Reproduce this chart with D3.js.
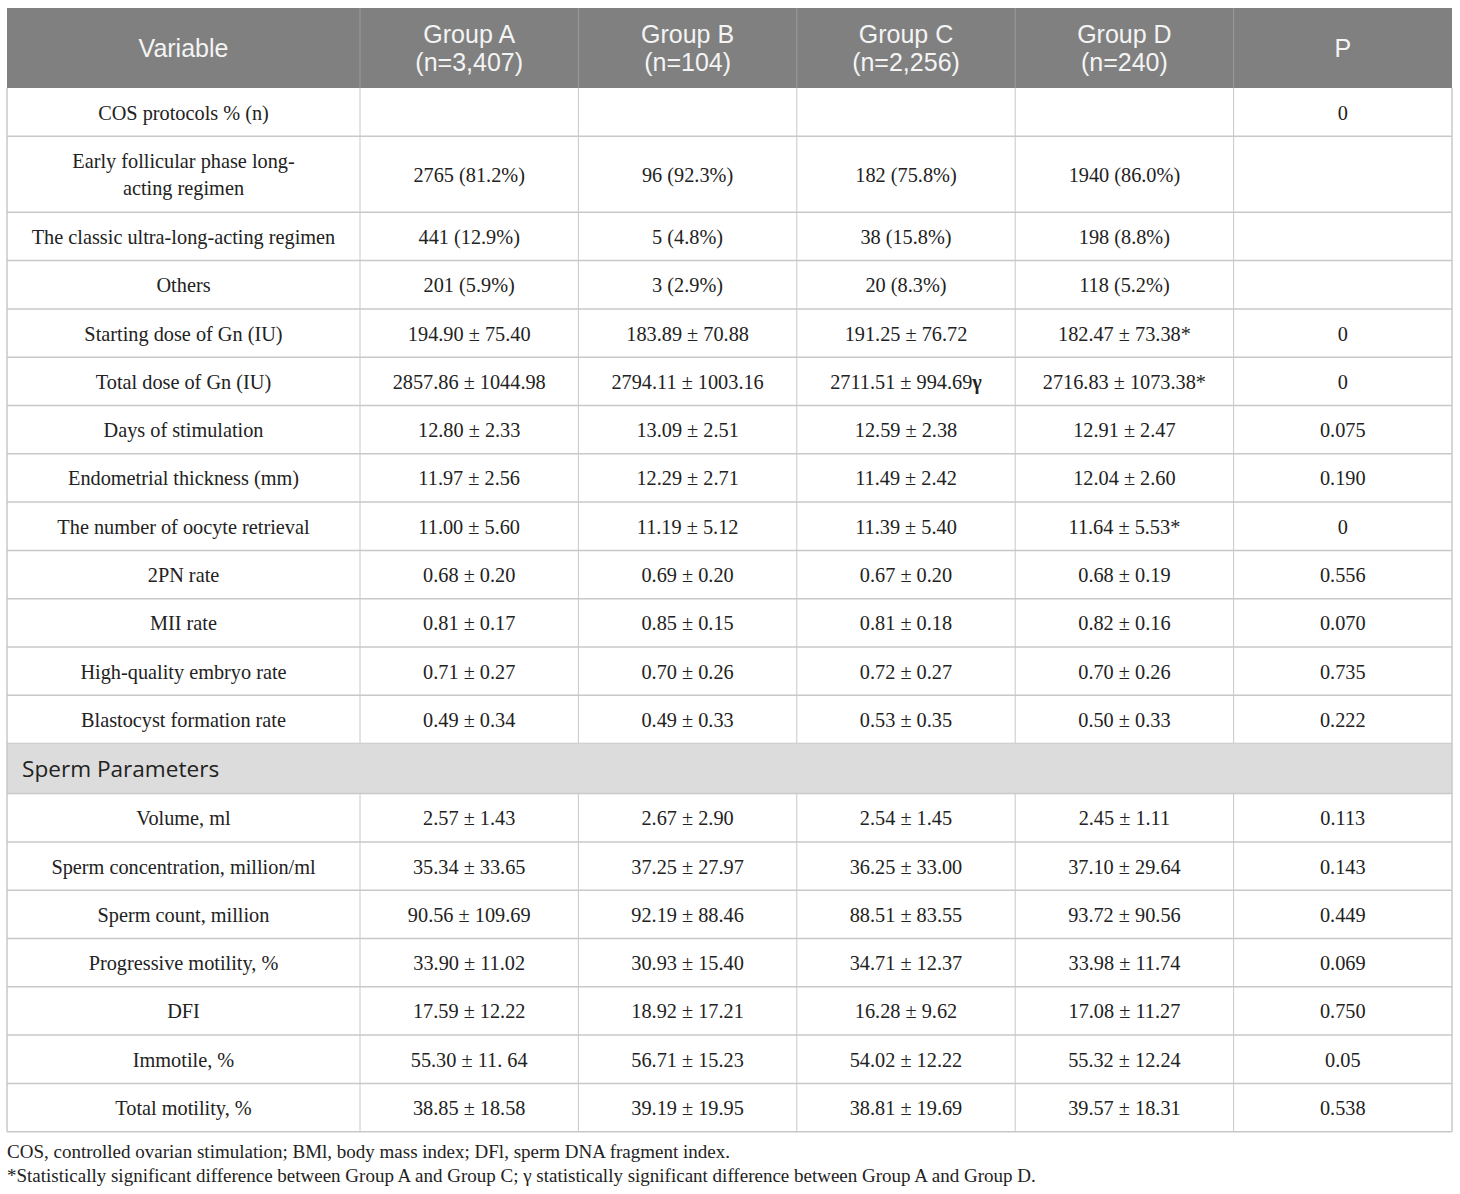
<!DOCTYPE html>
<html><head><meta charset="utf-8">
<script src="https://cdn.jsdelivr.net/npm/d3@7"></script>
<style>body{margin:0;background:#fff}</style>
</head><body>
<script>
// ---- data ----
const headers = ["Variable", "Group A\n(n=3,407)", "Group B\n(n=104)", "Group C\n(n=2,256)", "Group D\n(n=240)", "P"];
const variables = [
  "COS protocols % (n)",
  "Early follicular phase long-\nacting regimen",
  "The classic ultra-long-acting regimen",
  "Others",
  "Starting dose of Gn (IU)",
  "Total dose of Gn (IU)",
  "Days of stimulation",
  "Endometrial thickness (mm)",
  "The number of oocyte retrieval",
  "2PN rate",
  "MII rate",
  "High-quality embryo rate",
  "Blastocyst formation rate"
];
const groupA = ["", "2765 (81.2%)", "441 (12.9%)", "201 (5.9%)", "194.90 ± 75.40", "2857.86 ± 1044.98", "12.80 ± 2.33", "11.97 ± 2.56", "11.00 ± 5.60", "0.68 ± 0.20", "0.81 ± 0.17", "0.71 ± 0.27", "0.49 ± 0.34"];
const groupB = ["", "96 (92.3%)", "5 (4.8%)", "3 (2.9%)", "183.89 ± 70.88", "2794.11 ± 1003.16", "13.09 ± 2.51", "12.29 ± 2.71", "11.19 ± 5.12", "0.69 ± 0.20", "0.85 ± 0.15", "0.70 ± 0.26", "0.49 ± 0.33"];
const groupC = ["", "182 (75.8%)", "38 (15.8%)", "20 (8.3%)", "191.25 ± 76.72", "2711.51 ± 994.69γ", "12.59 ± 2.38", "11.49 ± 2.42", "11.39 ± 5.40", "0.67 ± 0.20", "0.81 ± 0.18", "0.72 ± 0.27", "0.53 ± 0.35"];
const groupD = ["", "1940 (86.0%)", "198 (8.8%)", "118 (5.2%)", "182.47 ± 73.38*", "2716.83 ± 1073.38*", "12.91 ± 2.47", "12.04 ± 2.60", "11.64 ± 5.53*", "0.68 ± 0.19", "0.82 ± 0.16", "0.70 ± 0.26", "0.50 ± 0.33"];
const pValues = ["0", "", "", "", "0", "0", "0.075", "0.190", "0", "0.556", "0.070", "0.735", "0.222"];

const spermSection = "Sperm Parameters";
const spermVariables = ["Volume, ml", "Sperm concentration, million/ml", "Sperm count, million", "Progressive motility, %", "DFI", "Immotile, %", "Total motility, %"];
const spermA = ["2.57 ± 1.43", "35.34 ± 33.65", "90.56 ± 109.69", "33.90 ± 11.02", "17.59 ± 12.22", "55.30 ± 11. 64", "38.85 ± 18.58"];
const spermB = ["2.67 ± 2.90", "37.25 ± 27.97", "92.19 ± 88.46", "30.93 ± 15.40", "18.92 ± 17.21", "56.71 ± 15.23", "39.19 ± 19.95"];
const spermC = ["2.54 ± 1.45", "36.25 ± 33.00", "88.51 ± 83.55", "34.71 ± 12.37", "16.28 ± 9.62", "54.02 ± 12.22", "38.81 ± 19.69"];
const spermD = ["2.45 ± 1.11", "37.10 ± 29.64", "93.72 ± 90.56", "33.98 ± 11.74", "17.08 ± 11.27", "55.32 ± 12.24", "39.57 ± 18.31"];
const spermP = ["0.113", "0.143", "0.449", "0.069", "0.750", "0.05", "0.538"];

const footnotes = [
  "COS, controlled ovarian stimulation; BMl, body mass index; DFl, sperm DNA fragment index.",
  "*Statistically significant difference between Group A and Group C; γ statistically significant difference between Group A and Group D."
];

// ---- layout ----
const W = 1460, H = 1194;
const tLeft = 7, tRight = 1452, tTop = 8, headerH = 80;
const firstColW = 353;
const rowH = 48.3, tallRowH = 76, sectionH = 50;
const lineColor = "#c8c8c8";
const serif = "'Liberation Serif','Times New Roman',serif";
const sans = "'Open Sans','Noto Sans',sans-serif";
const headSans = "'Liberation Sans',Arial,sans-serif";

const svg = d3.select("body").append("svg").attr("width", W).attr("height", H);

const colX = d3.scaleBand().domain(d3.range(5)).range([tLeft + firstColW, tRight]);
function colLeft(i){ return i === 0 ? tLeft : colX(i-1); }
function colRight(i){ return i === 0 ? tLeft + firstColW : colX(i-1) + colX.bandwidth(); }
function colCenter(i){ return (colLeft(i) + colRight(i)) / 2; }

const rows = [];
variables.forEach((v, i) => rows.push({type: "data", cells: [v, groupA[i], groupB[i], groupC[i], groupD[i], pValues[i]], h: v.includes("\n") ? tallRowH : rowH}));
rows.push({type: "section", label: spermSection, h: sectionH});
spermVariables.forEach((v, i) => rows.push({type: "data", cells: [v, spermA[i], spermB[i], spermC[i], spermD[i], spermP[i]], h: rowH}));
let yy = tTop + headerH;
rows.forEach(r => { r.y = yy; yy += r.h; });
const tableBottom = yy;

// header
svg.append("rect").attr("x", tLeft).attr("y", tTop).attr("width", tRight - tLeft).attr("height", headerH).attr("fill", "#808080");
headers.forEach((h, i) => {
  const lines = h.split("\n");
  const t = svg.append("text").attr("text-anchor", "middle")
    .attr("font-family", headSans).attr("font-size", 25).attr("fill", "#f4f4f4");
  const lh = 28.2;
  const y0 = tTop + headerH/2 - (lines.length - 1) * lh / 2 + 9;
  lines.forEach((l, k) => t.append("tspan").attr("x", colCenter(i)).attr("y", y0 + k * lh).text(l));
  if (i > 0) svg.append("line").attr("x1", colLeft(i)).attr("x2", colLeft(i)).attr("y1", tTop).attr("y2", tTop + headerH).attr("stroke", "#9a9a9a").attr("stroke-width", 1);
});

// rows
rows.forEach(r => {
  if (r.type === "section") {
    svg.append("rect").attr("x", tLeft).attr("y", r.y).attr("width", tRight - tLeft).attr("height", r.h).attr("fill", "#dcdcdc");
    svg.append("text").attr("x", tLeft + 15).attr("y", r.y + r.h/2 + 8).attr("font-family", sans).attr("font-size", 22.6).attr("fill", "#222").text(r.label);
  } else {
    r.cells.forEach((c, i) => {
      if (!c) return;
      const lines = c.split("\n");
      const lh = 27;
      const t = svg.append("text").attr("text-anchor", "middle").attr("font-family", serif).attr("font-size", 20.3).attr("fill", "#222");
      const y0 = r.y + r.h/2 - (lines.length - 1) * lh / 2 + 7.5;
      lines.forEach((l, k) => {
        const ts = t.append("tspan").attr("x", colCenter(i)).attr("y", y0 + k * lh);
        if (l.endsWith("γ")) {
          ts.text(l.slice(0, -1));
          t.append("tspan").attr("font-weight", "bold").text("γ");
        } else ts.text(l);
      });
    });
    for (let i = 1; i < 6; i++) {
      svg.append("line").attr("x1", colLeft(i)).attr("x2", colLeft(i)).attr("y1", r.y).attr("y2", r.y + r.h).attr("stroke", lineColor);
    }
  }
  svg.append("line").attr("x1", tLeft).attr("x2", tRight).attr("y1", r.y + r.h).attr("y2", r.y + r.h).attr("stroke", lineColor).attr("stroke-width", 1.5);
});

// outer borders
svg.append("line").attr("x1", tLeft).attr("x2", tLeft).attr("y1", tTop + headerH).attr("y2", tableBottom).attr("stroke", lineColor).attr("stroke-width", 1.5);
svg.append("line").attr("x1", tRight).attr("x2", tRight).attr("y1", tTop + headerH).attr("y2", tableBottom).attr("stroke", lineColor).attr("stroke-width", 1.5);

// footnotes
footnotes.forEach((f, k) => {
  svg.append("text").attr("x", tLeft).attr("y", tableBottom + 26 + k * 24).attr("font-family", serif).attr("font-size", 19).attr("fill", "#222").text(f);
});
</script>
</body></html>
